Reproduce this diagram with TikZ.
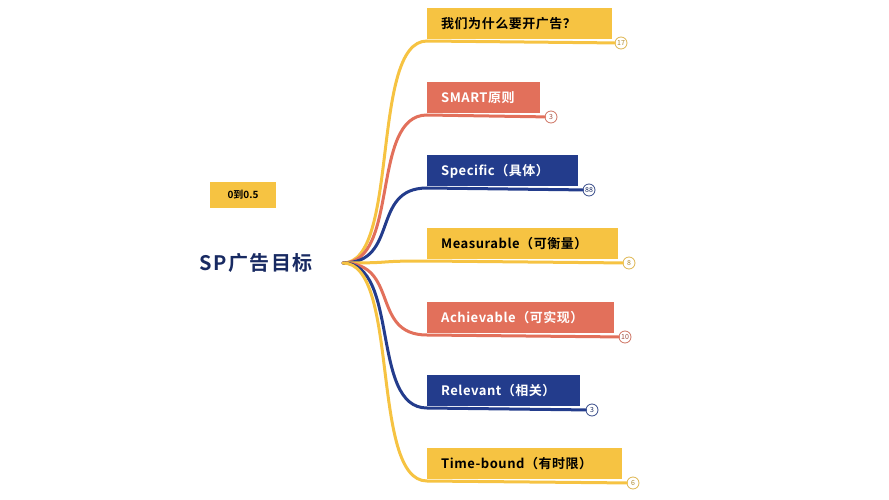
\documentclass[tikz,border=0pt]{standalone}
\usepackage{fontspec}
\setmainfont{Noto Sans CJK SC}[BoldFont={Noto Sans CJK SC Bold}]
\definecolor{yel}{HTML}{F6C342}
\definecolor{sal}{HTML}{E2705B}
\definecolor{nav}{HTML}{233C8C}
\begin{document}
\begin{tikzpicture}[x=1pt,y=-1pt,
  box/.style={anchor=west,inner sep=0pt,font=\bfseries\fontsize{13}{15}\selectfont\addfontfeatures{LetterSpace=4}},
  cnt/.style={circle,draw,line width=0.8pt,fill=white,inner sep=0pt,minimum size=12pt,font=\fontsize{7}{8}\selectfont},
  br/.style={line width=3pt,line cap=round}]
\useasboundingbox (0,0) rectangle (889,500);
\coordinate (root) at (343,263);
\newcommand\topic[8]{% name, top, right, color, textcolor, text, count, countx
  \fill[#4] (427,#2) rectangle (#3,#2+31);
  \node[box,text=#5] (#1) at (441,#2+16) {#6};
  \coordinate (#1s) at (427,#2+33);
  \node[cnt,draw=#4!80!gray,text=#4!70!black] (#1c) at (#8,#2+35) {#7};
  \draw[br,#4] (root) .. controls (400,263) and (370,#2+33) .. (#1s) -- (#1c);
}
\topic{t1}{8}{612}{yel}{black}{我们为什么要开广告？}{17}{621}
\topic{t2}{82}{540}{sal}{white}{SMART原则}{3}{551}
\topic{t3}{155}{578}{nav}{white}{Specific（具体）}{88}{589}
\topic{t4}{228}{618}{yel}{black}{Measurable（可衡量）}{8}{629}
\topic{t5}{302}{614}{sal}{white}{Achievable（可实现）}{10}{625}
\topic{t6}{375}{580}{nav}{white}{Relevant（相关）}{3}{592}
\topic{t7}{448}{622}{yel}{black}{Time-bound（有时限）}{6}{633}
\node[font=\bfseries\fontsize{20}{24}\selectfont\addfontfeatures{LetterSpace=8},text=nav!70!black] (center) at (256,263) {SP广告目标};
\node[fill=yel,minimum width=66pt,minimum height=26pt,inner sep=0pt,font=\bfseries\fontsize{10}{11}\selectfont] (tag) at (243,195) {0到0.5};
\end{tikzpicture}
\end{document}
